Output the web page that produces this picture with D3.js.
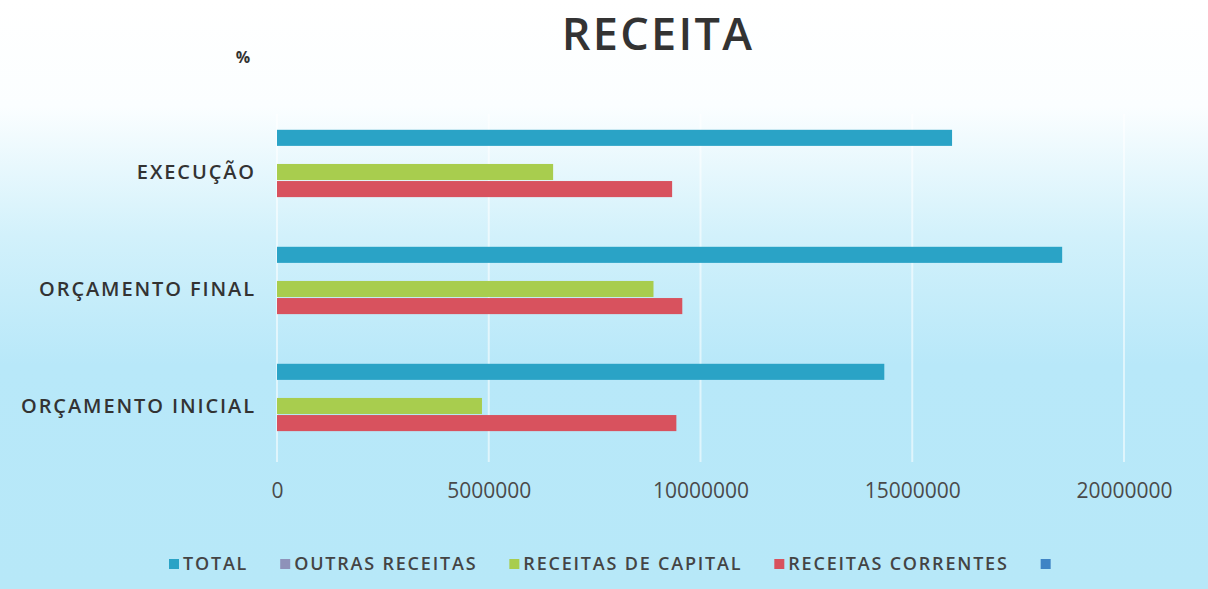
<!DOCTYPE html>
<html>
<head>
<meta charset="utf-8">
<script src="https://cdn.jsdelivr.net/npm/d3@7"></script>
<style>
  html, body { margin: 0; padding: 0; background: #fff; }
  svg { display: block; font-family: "Open Sans", sans-serif; }
</style>
</head>
<body>
<svg id="canvas"></svg>
<script>
// categories, top to bottom
let categories = ["EXECUÇÃO", "ORÇAMENTO FINAL", "ORÇAMENTO INICIAL"];
let seriesNames = ["TOTAL", "OUTRAS RECEITAS", "RECEITAS DE CAPITAL", "RECEITAS CORRENTES", ""];
let total = [15940000, 18540000, 14340000];
let outras = [0, 0, 0];
let capital = [6520000, 8890000, 4840000];
let correntes = [9330000, 9570000, 9430000];
let blank = [0, 0, 0];
let ticks = [0, 5000000, 10000000, 15000000, 20000000];
let colors = ["#2aa3c6", "#8e92b9", "#a8cd4e", "#d8525e", "#3f84c5"];

let W = 1208, H = 589;
let values = [total, outras, capital, correntes, blank];
let rows = categories.map((c, i) => ({
  cat: c,
  vals: seriesNames.map((s, j) => ({ key: j, value: values[j][i] }))
}));

let svg = d3.select("#canvas").attr("width", W).attr("height", H);

// background
let defs = svg.append("defs");
let grad = defs.append("linearGradient").attr("id", "bg")
  .attr("x1", 0).attr("y1", 0).attr("x2", 0).attr("y2", 1);
grad.append("stop").attr("offset", "0%").attr("stop-color", "#ffffff");
grad.append("stop").attr("offset", "18%").attr("stop-color", "#fbfeff");
grad.append("stop").attr("offset", "40%").attr("stop-color", "#d2f1fb");
grad.append("stop").attr("offset", "62%").attr("stop-color", "#b8e8f9");
grad.append("stop").attr("offset", "100%").attr("stop-color", "#b7e8f8");
svg.append("rect").attr("width", W).attr("height", H).attr("fill", "url(#bg)");

let x = d3.scaleLinear().domain([0, 20000000]).range([277, 1124]);
let y = d3.scaleBand().domain(categories).range([114, 465])
  .paddingInner(0.27).paddingOuter(0.135);
let y1 = d3.scaleBand().domain(d3.range(seriesNames.length)).range([0, y.bandwidth()]);

// gridlines
svg.append("g").selectAll("line")
  .data(ticks)
  .enter()
  .append("line")
  .attr("x1", d => x(d)).attr("x2", d => x(d))
  .attr("y1", 114).attr("y2", 462)
  .attr("stroke", "#ffffff")
  .attr("stroke-opacity", 0.55)
  .attr("stroke-width", 2);

// bars
let group = svg.append("g").selectAll("g")
  .data(rows)
  .enter()
  .append("g")
  .attr("transform", d => "translate(0," + y(d.cat) + ")");

group.selectAll("rect")
  .data(d => d.vals)
  .enter()
  .append("rect")
  .attr("x", x(0))
  .attr("y", d => y1(d.key))
  .attr("width", d => x(d.value) - x(0))
  .attr("height", y1.bandwidth() - 1)
  .attr("fill", d => colors[d.key]);

// x axis (labels only)
let xAxis = svg.append("g")
  .attr("transform", "translate(0,483)")
  .call(d3.axisBottom(x).tickValues(ticks).tickSize(0).tickFormat(d3.format("d")));
xAxis.select(".domain").remove();
xAxis.selectAll("text")
  .attr("dy", "0.71em")
  .attr("y", 0)
  .style("font-family", "Open Sans")
  .style("font-size", "21px")
  .attr("fill", "#4a4a4a");

// y axis (labels only)
let yAxis = svg.append("g")
  .attr("transform", "translate(256,0)")
  .call(d3.axisLeft(y).tickSize(0).tickPadding(0));
yAxis.select(".domain").remove();
yAxis.selectAll("text")
  .style("font-family", "Open Sans")
  .style("font-size", "20px")
  .style("font-weight", 600)
  .style("letter-spacing", "1.9px")
  .attr("fill", "#333333");

// title
svg.append("text")
  .text("RECEITA")
  .attr("x", 658).attr("y", 50)
  .attr("text-anchor", "middle")
  .style("font-size", "45px")
  .style("font-weight", 600)
  .style("letter-spacing", "2.3px")
  .attr("fill", "#333333");

svg.append("text")
  .text("%")
  .attr("x", 243).attr("y", 63)
  .attr("text-anchor", "middle")
  .style("font-size", "16px")
  .style("font-weight", 700)
  .attr("fill", "#333333");

// legend
let legend = svg.append("g").attr("transform", "translate(0,564)");
let lx = 169;
seriesNames.forEach((name, i) => {
  legend.append("rect")
    .attr("x", lx).attr("y", -5)
    .attr("width", 10).attr("height", 10)
    .attr("fill", colors[i]);
  let t = legend.append("text")
    .text(name)
    .attr("x", lx + 14).attr("y", 6)
    .style("font-size", "18px")
    .style("font-weight", 600)
    .style("letter-spacing", "1.8px")
    .attr("fill", "#444444");
  let w = name ? t.node().getComputedTextLength() : 0;
  lx += 14 + w + 32;
});
</script>
</body>
</html>
